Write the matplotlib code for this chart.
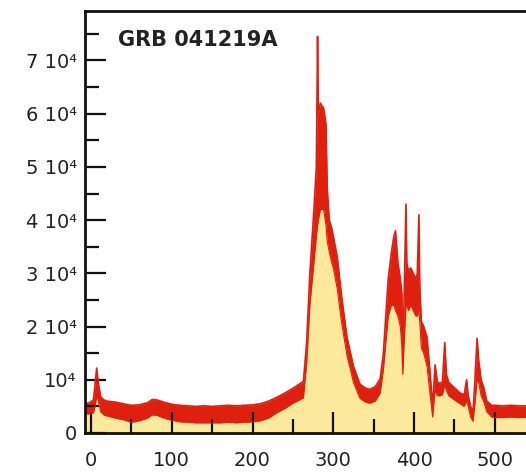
import numpy as np
import matplotlib
matplotlib.use('Agg')
from matplotlib import pyplot as plt
from matplotlib.ticker import MultipleLocator, FixedLocator

# время (с) и счёт: верхняя граница красной полосы и верх жёлтой заливки (x 1e4)
t = [-7, -2, 3, 5, 7, 9, 12, 16, 20, 30, 40, 50, 60, 70, 76, 82, 90, 100, 110, 120,
     130, 140, 150, 160, 170, 180, 190, 200, 210, 220, 230, 240, 250, 258, 263, 267,
     271, 276, 279, 280.5, 281.5, 284, 288, 291, 292.5, 295, 298, 300, 305, 310, 317, 325,
     333, 340, 345, 352, 358, 362, 365, 368, 372, 375, 377, 380, 383, 385, 386, 388,
     390, 391, 393, 396, 399, 402, 404, 406, 407, 409, 412, 416, 420, 423, 426,
     429, 432, 435, 438, 440, 443, 450, 457, 462, 465, 467, 470, 473, 475, 478, 480,
     483, 486, 490, 496, 500, 510, 520, 530, 546]

upper = [0.55, 0.57, 0.62, 0.9, 1.22, 0.95, 0.68, 0.62, 0.6, 0.58, 0.55, 0.52, 0.53, 0.57,
         0.63, 0.62, 0.58, 0.54, 0.52, 0.51, 0.5, 0.51, 0.5, 0.51, 0.52, 0.51, 0.52, 0.53,
         0.55, 0.6, 0.67, 0.75, 0.84, 0.92, 0.97, 1.7, 3.0, 4.2, 5.0, 7.45, 6.0, 6.2,
         6.1, 5.8, 4.6, 4.0, 3.85, 3.7, 3.3, 2.6, 1.8, 1.25, 0.92, 0.84, 0.82, 0.87, 1.02, 1.5, 2.2,
         2.9, 3.4, 3.7, 3.8, 3.2, 2.9, 2.6, 1.3, 2.8, 4.3, 3.2, 3.05, 3.1, 3.0, 2.9, 3.0,
         4.1, 2.8, 2.1, 2.0, 1.8, 1.1, 0.5, 1.28, 0.95, 0.94, 0.95, 1.7, 1.1, 0.95,
         0.85, 0.75, 0.72, 1.0, 0.7, 0.5, 0.4, 0.9, 1.78, 1.37, 1.0, 0.87, 0.6, 0.52, 0.52,
         0.51, 0.52, 0.51, 0.51]

lower = [0.36, 0.36, 0.38, 0.5, 0.7, 0.6, 0.4, 0.34, 0.32, 0.28, 0.25, 0.2, 0.23, 0.28,
         0.34, 0.33, 0.28, 0.24, 0.21, 0.2, 0.19, 0.19, 0.19, 0.19, 0.2, 0.19, 0.2, 0.21,
         0.23, 0.28, 0.38, 0.46, 0.56, 0.62, 0.66, 1.3, 2.4, 3.2, 3.7, 3.9, 4.0, 4.2,
         4.2, 3.9, 3.6, 3.4, 3.2, 3.1, 2.7, 2.1, 1.45, 0.95, 0.65, 0.58, 0.56, 0.6, 0.75, 1.2,
         1.7, 2.2, 2.4, 2.4, 2.3, 2.2, 2.0, 1.6, 1.1, 1.8, 2.4, 2.4, 2.3, 2.4, 2.3, 2.2,
         2.2, 2.3, 2.1, 1.6, 1.5, 1.25, 0.7, 0.3, 0.8, 0.7, 0.7, 0.72, 0.9, 0.8, 0.7,
         0.62, 0.55, 0.5, 0.6, 0.5, 0.3, 0.22, 0.5, 1.0, 0.95, 0.7, 0.6, 0.4, 0.3, 0.29,
         0.29, 0.3, 0.29, 0.3]

ytick_vals = [0, 1e4, 2e4, 3e4, 4e4, 5e4, 6e4, 7e4]
ytick_labels = ['0', '10⁴', '2 10⁴', '3 10⁴', '4 10⁴', '5 10⁴', '6 10⁴', '7 10⁴']
xtick_vals = [0, 100, 200, 300, 400, 500]

t = np.array(t)
upper = np.array(upper) * 1e4
lower = np.array(lower) * 1e4

fig = plt.figure(figsize=(5.26, 4.75), dpi=100)
ax = fig.add_axes([85 / 526, 42 / 475, 447 / 526, 422 / 475])

yellow = '#fde99c'
red = '#e0200f'
ax.fill_between(t, 0, lower, color=yellow, lw=0)
ax.fill_between(t, lower, upper, color=red, lw=0)
ax.plot(t, upper, color=red, lw=1.2)
ax.plot(t, lower, color=red, lw=0.8)

ax.set_xlim(-7.4, 546)
ax.set_ylim(0, 7.93e4)

ax.xaxis.set_major_locator(FixedLocator(xtick_vals))
ax.xaxis.set_minor_locator(MultipleLocator(50))
ax.yaxis.set_major_locator(FixedLocator(ytick_vals))
ax.yaxis.set_minor_locator(MultipleLocator(5000))
ax.set_yticklabels(ytick_labels)

ax.tick_params(which='both', direction='in', width=1.6, color='#111111',
               labelsize=14, labelcolor='#222222', top=False, right=False)
ax.tick_params(which='major', length=15)
ax.tick_params(which='minor', length=10)
ax.tick_params(axis='x', pad=13)
ax.tick_params(axis='y', pad=6)

for s in ax.spines.values():
    s.set_linewidth(2)
    s.set_color('#111111')

# подпись в пикселях фигуры (отсчёт снизу)
ax.text(118, 475 - 40, 'GRB 041219A', transform=None, fontsize=15, fontweight='bold',
        color='#222222', va='center', ha='left')

fig.savefig('out.png', dpi=100)
